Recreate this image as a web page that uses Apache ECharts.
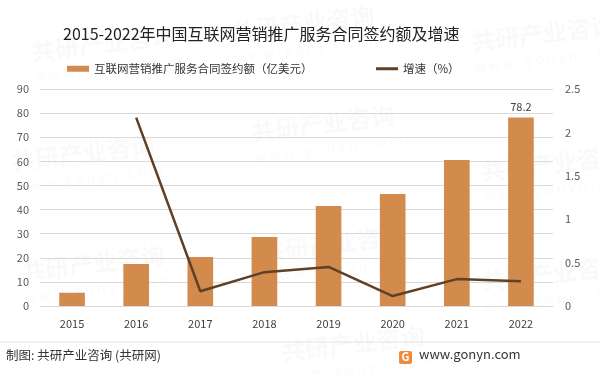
<!DOCTYPE html>
<html>
<head>
<meta charset="utf-8">
<script src="https://cdn.jsdelivr.net/npm/echarts@6/dist/echarts.min.js"></script>
<style>
  html, body { margin: 0; padding: 0; background: #fff; }
  #main { width: 600px; height: 375px; }
</style>
</head>
<body>
<div id="main"></div>
<script>
// 数据
var years = ['2015', '2016', '2017', '2018', '2019', '2020', '2021', '2022'];
var amount = [5.5, 17.4, 20.3, 28.6, 41.5, 46.5, 60.6, 78.2];   // 亿美元
var growth = [null, 2.17, 0.17, 0.39, 0.45, 0.115, 0.31, 0.285]; // 增速
var leftTicks = { min: 0, max: 90, interval: 10 };
var rightTicks = { min: 0, max: 2.5, interval: 0.5 };

var barName = '互联网营销推广服务合同签约额（亿美元）';
var lineName = '增速（%）';
var font = '"Noto Sans CJK SC", "Noto Sans", sans-serif';

var myChart = echarts.init(document.getElementById('main'));

// 水印
var marks = [];
var spots = [[30, 40], [230, 20], [470, 30], [10, 150], [250, 120], [480, 160], [20, 260], [260, 240], [480, 270], [280, 340]];
spots.forEach(function (p) {
    marks.push({
        type: 'group', x: p[0], y: p[1], rotation: 0.12, silent: true, z: -1,
        children: [
            { type: 'text', style: { text: '共研产业咨询', font: 'bold 24px ' + font, fill: 'rgba(0,0,0,0.022)' } },
            { type: 'text', y: 30, style: { text: 'w w w . g o n y n . c o m', font: '14px ' + font, fill: 'rgba(0,0,0,0.022)' } }
        ]
    });
});

option = {
    textStyle: { fontFamily: font },
    title: {
        text: '2015-2022年中国互联网营销推广服务合同签约额及增速',
        left: 58,
        top: 21,
        textStyle: { fontSize: 16, fontWeight: 'normal', color: '#222', fontFamily: font }
    },
    legend: [
        {
            data: [barName], left: 62, top: 58, icon: 'rect',
            itemWidth: 22, itemHeight: 6, itemGap: 0,
            textStyle: { fontSize: 11.5, color: '#333', fontFamily: font }
        },
        {
            data: [lineName], left: 371, top: 58, icon: 'rect',
            itemWidth: 22, itemHeight: 3,
            textStyle: { fontSize: 11.5, color: '#333', fontFamily: font }
        }
    ],
    grid: { left: 40, right: 47, top: 89, bottom: 69, containLabel: false },
    xAxis: [{
        type: 'category',
        data: years,
        axisTick: { show: false },
        axisLine: { lineStyle: { color: '#d9d9d9' } },
        axisLabel: { color: '#404040', fontSize: 11, margin: 12 }
    }],
    yAxis: [
        {
            type: 'value',
            min: leftTicks.min, max: leftTicks.max, interval: leftTicks.interval,
            axisLabel: { color: '#595959', fontSize: 11, margin: 11 },
            axisLine: { show: false },
            axisTick: { show: false },
            splitLine: { lineStyle: { color: '#d9d9d9' } }
        },
        {
            type: 'value',
            min: rightTicks.min, max: rightTicks.max, interval: rightTicks.interval,
            axisLabel: { color: '#595959', fontSize: 11, margin: 12 },
            axisLine: { show: false },
            axisTick: { show: false },
            splitLine: { show: false }
        }
    ],
    series: [
        {
            name: barName,
            type: 'bar',
            barWidth: '40%',
            itemStyle: { color: '#D28B4C' },
            label: {
                show: true, position: 'top', color: '#404040', fontSize: 11,
                formatter: function (p) { return p.dataIndex === years.length - 1 ? p.value : ''; }
            },
            data: amount
        },
        {
            name: lineName,
            type: 'line',
            yAxisIndex: 1,
            symbol: 'none',
            lineStyle: { color: '#5E4128', width: 2.5 },
            itemStyle: { color: '#5E4128' },
            data: growth
        }
    ],
    graphic: marks.concat([
        { type: 'line', shape: { x1: 0, y1: 342, x2: 600, y2: 342 }, style: { stroke: '#e3e3e3', lineWidth: 1 } },
        { type: 'text', left: 6, top: 349, style: { text: '制图: 共研产业咨询 (共研网)', font: '12.5px ' + font, fill: '#333' } },
        { type: 'rect', shape: { x: 399, y: 351, width: 13, height: 13, r: 2 }, style: { fill: '#F08A3C' } },
        { type: 'text', x: 401.5, y: 351, style: { text: 'G', font: 'bold 11px ' + font, fill: '#fff' } },
        { type: 'text', left: 419, top: 348, style: { text: 'www.gonyn.com', font: '13px ' + font, fill: '#333' } }
    ])
};

myChart.setOption(option);
</script>
</body>
</html>
